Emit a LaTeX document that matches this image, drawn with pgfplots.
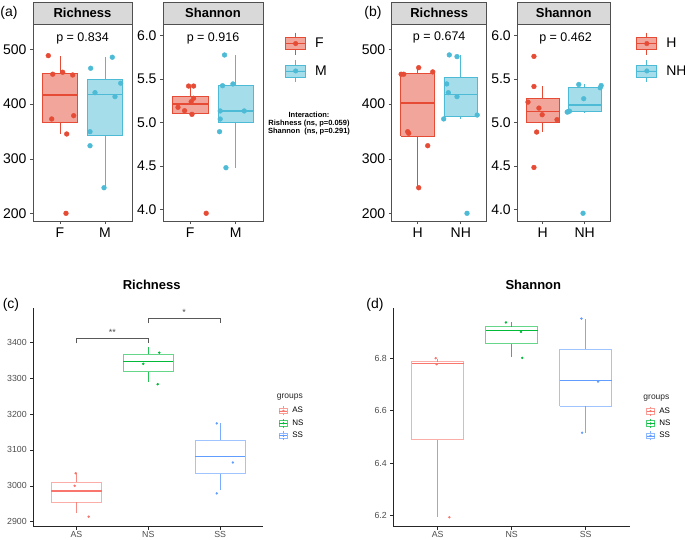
\documentclass[border=0pt]{standalone}
\usepackage{fontspec}
\setmainfont{Liberation Sans}
\usepackage{pgfplots}
\pgfplotsset{compat=1.18}

\definecolor{npgred}{HTML}{E64B35}
\definecolor{npgblue}{HTML}{4DBBD5}
\definecolor{ggred}{HTML}{F8766D}
\definecolor{gggreen}{HTML}{00BA38}
\definecolor{ggblue}{HTML}{619CFF}
\definecolor{stripfill}{HTML}{D9D9D9}
\definecolor{bordergray}{HTML}{505050}

\pgfplotsset{
  topaxis/.style={
    scale only axis, clip=false, anchor=south west,
    xmin=0.4, xmax=2.6, xtick={1,2},
    height=197pt,
    tick align=outside, tick pos=left, major tick length=3pt,
    axis line style={draw=bordergray, line width=0.7pt},
    every tick/.style={draw=bordergray, line width=0.6pt},
    tick label style={font=\fontsize{14}{16}\selectfont, text=black},
    /pgf/number format/assume math mode=true,
  },
  richaxis/.style={ymin=186.7, ymax=546, ytick={200,300,400,500}},
  shanaxis/.style={ymin=3.865, ymax=6.135, ytick={4,4.5,5,5.5,6},
    yticklabel style={/pgf/number format/.cd, fixed, fixed zerofill, precision=1}},
  tpts/.style={forget plot, only marks, mark=*, mark size=2.4pt, color=#1,
    mark options={fill=#1, draw=none}},
  tkey/.style={legend image code/.code={
    \draw[##1, line width=0.9pt] (10pt,-11pt) -- (10pt,-6pt);
    \draw[##1, line width=0.9pt] (10pt,6pt) -- (10pt,11pt);
    \draw[##1, line width=0.9pt, fill opacity=0.5] (0pt,-6pt) rectangle (20pt,6pt);
    \draw[##1, line width=0.9pt] (0pt,0pt) -- (20pt,0pt);
    \fill[##1] (10pt,0pt) circle (2.3pt);
  }},
  toplegend/.style={legend style={draw=none, fill=none,
    font=\fontsize{14}{16}\selectfont, row sep=4.5pt, legend cell align=left,
    /tikz/every odd column/.append style={column sep=7pt}}},
  botaxis/.style={
    scale only axis, clip=false, anchor=south west,
    xmin=0.4, xmax=3.6, xtick={1,2,3}, xticklabels={AS,NS,SS},
    axis lines*=left,
    axis line style={draw=black!85, line width=0.6pt},
    tick align=outside, major tick length=3pt,
    every tick/.style={draw=black!85, line width=0.5pt},
    tick label style={font=\fontsize{8.8}{10}\selectfont, text=black!70},
    xticklabel style={inner sep=1pt},
    /pgf/number format/assume math mode=true,
    /pgf/number format/1000 sep={},
  },
  bpts/.style={forget plot, only marks, mark=*, mark size=1pt, color=#1,
    mark options={fill=#1, draw=none}},
  bkey/.style={legend image code/.code={
    \draw[##1, line width=0.5pt, draw opacity=0.8] (4pt,-4.5pt) -- (4pt,4.5pt);
    \draw[##1, line width=0.5pt, fill=white, draw opacity=0.7] (0pt,-2.7pt) rectangle (8pt,2.7pt);
    \draw[##1, line width=0.6pt] (0pt,0pt) -- (8pt,0pt);
    \fill[##1] (4pt,0pt) circle (0.9pt);
  }},
  botlegend/.style={legend style={draw=none, fill=none,
    font=\fontsize{8}{9}\selectfont, row sep=1.3pt, legend cell align=left,
    /tikz/every odd column/.append style={column sep=2.5pt}}},
}

% top boxplot: colour, left, right, centre, lower whisker, Q1, median, Q3, upper whisker
\newcommand{\tbx}[9]{%
  \addplot[forget plot, draw=#1, line width=0.9pt] coordinates {(#4,#5) (#4,#6)};
  \addplot[forget plot, draw=#1, line width=0.9pt] coordinates {(#4,#8) (#4,#9)};
  \addplot[forget plot, draw=#1, fill=#1, fill opacity=0.5, line width=0.9pt] coordinates {(#2,#6) (#3,#6) (#3,#8) (#2,#8) (#2,#6)};
  \addplot[forget plot, draw=#1, line width=1.7pt] coordinates {(#2,#7) (#3,#7)};
}
% bottom boxplot
\newcommand{\bbx}[9]{%
  \addplot[forget plot, draw=#1, draw opacity=0.85, line width=0.7pt] coordinates {(#4,#5) (#4,#6)};
  \addplot[forget plot, draw=#1, draw opacity=0.85, line width=0.7pt] coordinates {(#4,#8) (#4,#9)};
  \addplot[forget plot, draw=#1, draw opacity=0.6, line width=0.7pt] coordinates {(#2,#6) (#3,#6) (#3,#8) (#2,#8) (#2,#6)};
  \addplot[forget plot, draw=#1, line width=1.4pt] coordinates {(#2,#7) (#3,#7)};
}

\newcommand{\strip}[1]{%
  \draw[draw=bordergray, line width=0.7pt, fill=stripfill] (rel axis cs:0,1) rectangle (rel axis cs:1,1.1117);
  \node[font=\bfseries\fontsize{13}{15}\selectfont] at (rel axis cs:0.5,1.0558) {#1};
}

\begin{document}
\begin{tikzpicture}
\useasboundingbox (0pt,0pt) rectangle (685pt,539pt);

% ---------------- (a) Richness
\begin{axis}[topaxis, richaxis, at={(33pt,318pt)}, width=99pt, xticklabels={F,M}]
\tbx{npgred}{0.61}{1.39}{1}{345.4}{366}{415.9}{455.3}{488.3}
\tbx{npgblue}{1.61}{2.39}{2}{247.4}{343.2}{417.2}{444.8}{485.4}
\addplot[tpts=npgred] coordinates {(0.74,488.3) (0.838,454.4) (1.06,458) (1.282,453) (0.816,372.8) (1.304,378.8) (1.149,345.4) (1.133,200.7)};
\addplot[tpts=npgblue] coordinates {(1.682,465.3) (2.162,485.4) (1.778,420.8) (2.222,413.5) (2.349,438) (1.667,349.6) (1.667,324) (1.978,247.4)};
\node[font=\fontsize{12.5}{14}\selectfont] at (rel axis cs:0.5,0.927) {p = 0.834};
\strip{Richness}
\end{axis}

% ---------------- (a) Shannon
\begin{axis}[topaxis, shanaxis, at={(163pt,318pt)}, width=100pt, xticklabels={F,M}, toplegend,
  legend style={at={(rel axis cs:1.19,0.97)}, anchor=north west}]
\tbx{npgred}{0.61}{1.39}{1}{5.094}{5.10}{5.21}{5.305}{5.42}
\tbx{npgblue}{1.61}{2.39}{2}{4.479}{5.004}{5.133}{5.429}{5.778}
\addplot[tpts=npgred] coordinates {(0.963,5.42) (1.073,5.42) (1.073,5.279) (1.02,5.24) (0.73,5.175) (0.875,5.136) (1.037,5.094) (1.35,3.954)};
\addplot[tpts=npgblue] coordinates {(1.754,5.778) (1.71,5.424) (1.938,5.444) (1.659,5.133) (2.187,5.133) (1.659,5.04) (1.644,4.894) (1.785,4.479)};
\node[font=\fontsize{12.5}{14}\selectfont] at (rel axis cs:0.5,0.927) {p = 0.916};
\strip{Shannon}
\addlegendimage{tkey, draw=npgred, fill=npgred}
\addlegendentry{F}
\addlegendimage{tkey, draw=npgblue, fill=npgblue}
\addlegendentry{M}
\end{axis}

% ---------------- (b) Richness
\begin{axis}[topaxis, richaxis, at={(391.7pt,318pt)}, width=95pt, xticklabels={H,NH}]
\tbx{npgred}{0.61}{1.39}{1}{247.4}{341}{402}{455.5}{466.4}
\tbx{npgblue}{1.61}{2.39}{2}{372.8}{378.2}{417.2}{449.2}{489.6}
\addplot[tpts=npgred] coordinates {(0.618,454.4) (0.678,454.4) (1.025,466.4) (1.35,458.6) (0.77,349.6) (0.794,346.7) (1.234,324) (1.025,247.4)};
\addplot[tpts=npgblue] coordinates {(1.734,489.6) (1.912,486.5) (1.674,436.7) (1.711,420.8) (1.912,413.5) (1.604,372.8) (2.38,380) (2.144,200.7)};
\node[font=\fontsize{12.5}{14}\selectfont] at (rel axis cs:0.5,0.93) {p = 0.674};
\strip{Richness}
\end{axis}

% ---------------- (b) Shannon
\begin{axis}[topaxis, shanaxis, at={(517.3pt,318pt)}, width=92.7pt, xticklabels={H,NH}, toplegend,
  legend style={at={(rel axis cs:1.25,0.97)}, anchor=north west}]
\tbx{npgred}{0.61}{1.39}{1}{4.89}{4.997}{5.128}{5.28}{5.415}
\tbx{npgblue}{1.61}{2.39}{2}{5.12}{5.124}{5.2}{5.4065}{5.438}
\addplot[tpts=npgred] coordinates {(0.795,5.762) (0.795,5.415) (0.654,5.235) (0.913,5.166) (0.99,5.09) (1.343,5.033) (0.859,4.89) (0.795,4.482)};
\addplot[tpts=npgblue] coordinates {(1.859,5.438) (2.39,5.426) (2.367,5.40) (1.976,5.274) (1.584,5.12) (1.638,5.131) (1.607,5.125) (1.96,3.954)};
\node[font=\fontsize{12.5}{14}\selectfont] at (rel axis cs:0.52,0.927) {p = 0.462};
\strip{Shannon}
\addlegendimage{tkey, draw=npgred, fill=npgred}
\addlegendentry{H}
\addlegendimage{tkey, draw=npgblue, fill=npgblue}
\addlegendentry{NH}
\end{axis}

% ---------------- (c) Richness
\begin{axis}[botaxis, at={(33.3pt,12.3pt)}, width=230pt, height=218.7pt,
  ymin=2886, ymax=3495.5, ytick={2900,3000,3100,3200,3300,3400}, botlegend,
  legend style={at={(rel axis cs:1.055,0.565)}, anchor=north west}]
\bbx{ggred}{0.65}{1.35}{1}{2923}{2954}{2985}{3010}{3035}
\bbx{gggreen}{1.65}{2.35}{2}{3290}{3318}{3346}{3366}{3386}
\bbx{ggblue}{2.65}{3.35}{3}{2988}{3034}{3081}{3128}{3176}
\addplot[bpts=ggred] coordinates {(0.99,3035) (0.976,3000) (1.17,2914)};
\addplot[bpts=gggreen] coordinates {(1.93,3340) (2.153,3371) (2.131,3283)};
\addplot[bpts=ggblue] coordinates {(2.953,3174) (3.176,3065) (2.953,2979)};
\addplot[forget plot, draw=black!65, line width=0.5pt] coordinates {(1,3397) (1,3411) (2,3411) (2,3397)};
\addplot[forget plot, draw=black!65, line width=0.5pt] coordinates {(2,3453) (2,3467) (3,3467) (3,3453)};
\node[font=\fontsize{9}{10}\selectfont, text=black!70] at (axis cs:1.5,3428) {**};
\node[font=\fontsize{9}{10}\selectfont, text=black!70] at (axis cs:2.5,3484) {*};
\node[anchor=west, inner sep=0pt, font=\fontsize{8.5}{10}\selectfont, text=black!85] at (rel axis cs:1.058,0.594) {groups};
\addlegendimage{bkey, draw=ggred, fill=ggred}
\addlegendentry{AS}
\addlegendimage{bkey, draw=gggreen, fill=gggreen}
\addlegendentry{NS}
\addlegendimage{bkey, draw=ggblue, fill=ggblue}
\addlegendentry{SS}
\end{axis}

% ---------------- (d) Shannon
\begin{axis}[botaxis, at={(393.3pt,12.3pt)}, width=236.7pt, height=218.4pt,
  ymin=6.158, ymax=6.99, ytick={6.2,6.4,6.6,6.8},
  yticklabel style={/pgf/number format/.cd, fixed, fixed zerofill, precision=1},
  botlegend,
  legend style={at={(rel axis cs:1.055,0.565)}, anchor=north west}]
\bbx{ggred}{0.65}{1.35}{1}{6.196}{6.489}{6.779}{6.787}{6.795}
\bbx{gggreen}{1.65}{2.35}{2}{6.804}{6.855}{6.905}{6.92}{6.936}
\bbx{ggblue}{2.65}{3.35}{3}{6.516}{6.616}{6.716}{6.834}{6.951}
\addplot[bpts=ggred] coordinates {(0.973,6.80) (0.986,6.777) (1.157,6.194)};
\addplot[bpts=gggreen] coordinates {(1.923,6.936) (2.126,6.90) (2.143,6.801)};
\addplot[bpts=ggblue] coordinates {(2.944,6.951) (3.168,6.711) (2.952,6.516)};
\node[anchor=west, inner sep=0pt, font=\fontsize{8.5}{10}\selectfont, text=black!85] at (rel axis cs:1.056,0.591) {groups};
\addlegendimage{bkey, draw=ggred, fill=ggred}
\addlegendentry{AS}
\addlegendimage{bkey, draw=gggreen, fill=gggreen}
\addlegendentry{NS}
\addlegendimage{bkey, draw=ggblue, fill=ggblue}
\addlegendentry{SS}
\end{axis}

% ---------------- panel labels and titles
\node[font=\fontsize{14}{16}\selectfont] at (9pt,526pt) {(a)};
\node[font=\fontsize{14}{16}\selectfont] at (373pt,526pt) {(b)};
\node[font=\fontsize{14}{16}\selectfont] at (11pt,234pt) {(c)};
\node[font=\fontsize{14}{16}\selectfont] at (375pt,234pt) {(d)};
\node[font=\bfseries\fontsize{13}{15}\selectfont] at (151.7pt,254pt) {Richness};
\node[font=\bfseries\fontsize{13}{15}\selectfont] at (533.3pt,254pt) {Shannon};
\node[align=center, font=\bfseries\fontsize{7.5}{8.3}\selectfont] at (309pt,415.5pt) {Interaction:\\Rishness (ns, p=0.059)\\Shannon\ \ (ns, p=0.291)};
\end{tikzpicture}
\end{document}
